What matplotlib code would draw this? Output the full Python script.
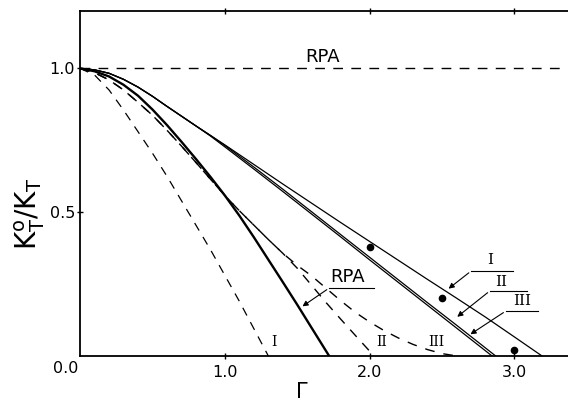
import numpy as np
import matplotlib
matplotlib.use('Agg')
from matplotlib import pyplot as plt

# solid curves I, II, III
g_I = [0, 0.1, 0.2, 0.3, 0.4, 0.5, 0.6, 0.7, 0.8, 0.9, 1.0, 1.2, 1.4, 1.6, 1.8, 2.0, 2.2, 2.4, 2.6, 2.8, 3.0, 3.19]
k_I = [1.0, 0.995, 0.983, 0.962, 0.935, 0.903, 0.868, 0.834, 0.800, 0.767, 0.734, 0.666, 0.598, 0.531,
       0.464, 0.398, 0.332, 0.266, 0.201, 0.135, 0.066, 0.0]
g_II = [0, 0.1, 0.2, 0.3, 0.4, 0.5, 0.6, 0.7, 0.8, 0.9, 1.0, 1.2, 1.4, 1.6, 1.8, 2.0, 2.2, 2.4, 2.6, 2.845]
k_II = [1.0, 0.995, 0.983, 0.962, 0.935, 0.903, 0.868, 0.834, 0.800, 0.765, 0.727, 0.650, 0.572, 0.493,
        0.414, 0.334, 0.255, 0.176, 0.097, 0.0]
g_III = [0, 0.1, 0.2, 0.3, 0.4, 0.5, 0.6, 0.7, 0.8, 0.9, 1.0, 1.2, 1.4, 1.6, 1.8, 2.0, 2.2, 2.4, 2.6, 2.87]
k_III = [1.0, 0.995, 0.983, 0.962, 0.935, 0.903, 0.868, 0.834, 0.800, 0.767, 0.732, 0.657, 0.580, 0.501,
         0.422, 0.343, 0.264, 0.185, 0.107, 0.0]

# RPA solid (thick)
g_rpa = [0, 0.1, 0.2, 0.3, 0.4, 0.5, 0.6, 0.7, 0.8, 0.9, 1.0, 1.1, 1.2, 1.3, 1.4, 1.5, 1.6, 1.72]
k_rpa = [1.0, 0.99, 0.972, 0.943, 0.905, 0.857, 0.803, 0.745, 0.685, 0.623, 0.558, 0.488, 0.413, 0.335,
         0.257, 0.178, 0.097, 0.0]

# dashed curves
g_dI = [0, 0.1, 0.2, 0.3, 0.4, 0.5, 0.6, 0.7, 0.8, 0.9, 1.0, 1.1, 1.2, 1.3]
k_dI = [1.0, 0.977, 0.925, 0.855, 0.78, 0.705, 0.625, 0.54, 0.455, 0.37, 0.28, 0.19, 0.095, 0.0]
g_dII = [0, 0.1, 0.2, 0.3, 0.4, 0.5, 0.6, 0.7, 0.8, 0.9, 1.0, 1.1, 1.2, 1.3, 1.4, 1.5, 1.6, 1.7, 1.8, 1.9, 2.03]
k_dII = [1.0, 0.985, 0.96, 0.925, 0.882, 0.837, 0.785, 0.73, 0.673, 0.615, 0.558, 0.505, 0.455, 0.405,
         0.357, 0.305, 0.245, 0.185, 0.128, 0.072, 0.0]
g_dIII = [0, 0.1, 0.2, 0.3, 0.4, 0.5, 0.6, 0.7, 0.8, 0.9, 1.0, 1.1, 1.2, 1.3, 1.4, 1.5, 1.6, 1.7, 1.8, 1.9,
          2.0, 2.1, 2.2, 2.3, 2.4, 2.5, 2.6]
k_dIII = [1.0, 0.985, 0.96, 0.925, 0.882, 0.837, 0.785, 0.73, 0.673, 0.615, 0.558, 0.505, 0.455, 0.405,
          0.357, 0.315, 0.278, 0.235, 0.192, 0.152, 0.118, 0.088, 0.062, 0.040, 0.022, 0.008, 0.0]

# data points
g_pts = [2.0, 2.5, 3.0]
k_pts = [0.38, 0.2, 0.02]

xticks = [1.0, 2.0, 3.0]
xlabels = ['1.0', '2.0', '3.0']
yticks = [0.5, 1.0]
ylabels = ['0.5', '1.0']

fig = plt.figure(figsize=(5.68, 4.04), dpi=100)
ax = fig.add_axes([0.141, 0.119, 0.859, 0.854])

dash = (7, 6)
ax.axhline(1.0, color='k', lw=1.0, dashes=dash)
ax.plot(g_I, k_I, 'k-', lw=0.9)
ax.plot(g_II, k_II, 'k-', lw=0.9)
ax.plot(g_III, k_III, 'k-', lw=0.9)
ax.plot(g_rpa, k_rpa, 'k-', lw=1.7)
ax.plot(g_dI, k_dI, color='k', lw=0.9, dashes=dash)
ax.plot(g_dII, k_dII, color='k', lw=1.0, dashes=dash)
ax.plot(g_dIII, k_dIII, color='k', lw=1.0, dashes=(7, 6.5))
ax.plot(g_pts, k_pts, 'ko', ms=4.5)

ax.set_xlim(0, 3.37)
ax.set_ylim(0, 1.2)
ax.spines['right'].set_visible(False)
for s in ['left', 'bottom', 'top']:
    ax.spines[s].set_linewidth(1.3)

ax.set_xticks(xticks)
ax.set_xticklabels(xlabels, fontsize=11.5)
ax.set_yticks(yticks)
ax.set_yticklabels(ylabels, fontsize=11.5)
ax.tick_params(axis='x', direction='inout', length=5, width=1, top=True, pad=4)
ax.tick_params(axis='y', direction='inout', length=5, width=1, pad=1)
ax.text(-0.1, -0.045, '0.0', fontsize=11.5, ha='center', va='center', clip_on=False)

ax.set_ylabel(r'$\mathsf{K_T^o/K_T}$', fontsize=20)
ax.yaxis.set_label_coords(-0.068, 0.414)
ax.text(1.53, -0.092, r'$\Gamma$', fontsize=15, ha='center', va='top', clip_on=False)

# labels
ax.text(1.676, 1.038, 'RPA', fontsize=13, ha='center', va='center')
ax.text(1.85, 0.275, 'RPA', fontsize=13, ha='center', va='center')
ax.plot([1.72, 2.03], [0.236, 0.236], 'k-', lw=0.8)
ax.annotate('', xy=(1.52, 0.167), xytext=(1.72, 0.236),
            arrowprops=dict(arrowstyle='-|>', color='k', lw=0.8, mutation_scale=8))

rom = ['DejaVu Serif']
ax.text(2.83, 0.335, 'I', fontsize=11, ha='center', va='center', family=rom)
ax.plot([2.70, 2.99], [0.295, 0.295], 'k-', lw=0.8)
ax.annotate('', xy=(2.53, 0.228), xytext=(2.70, 0.295),
            arrowprops=dict(arrowstyle='-|>', color='k', lw=0.8, mutation_scale=8))
ax.text(2.91, 0.258, 'II', fontsize=11, ha='center', va='center', family=rom)
ax.plot([2.83, 3.09], [0.226, 0.226], 'k-', lw=0.8)
ax.annotate('', xy=(2.59, 0.13), xytext=(2.83, 0.226),
            arrowprops=dict(arrowstyle='-|>', color='k', lw=0.8, mutation_scale=8))
ax.text(3.05, 0.19, 'III', fontsize=11, ha='center', va='center', family=rom)
ax.plot([2.94, 3.16], [0.156, 0.156], 'k-', lw=0.8)
ax.annotate('', xy=(2.68, 0.07), xytext=(2.94, 0.156),
            arrowprops=dict(arrowstyle='-|>', color='k', lw=0.8, mutation_scale=8))

ax.text(1.34, 0.05, 'I', fontsize=10, ha='center', va='center', family=rom)
ax.text(2.08, 0.05, 'II', fontsize=10, ha='center', va='center', family=rom)
ax.text(2.46, 0.05, 'III', fontsize=10, ha='center', va='center', family=rom)

fig.savefig('out.png', dpi=100)
